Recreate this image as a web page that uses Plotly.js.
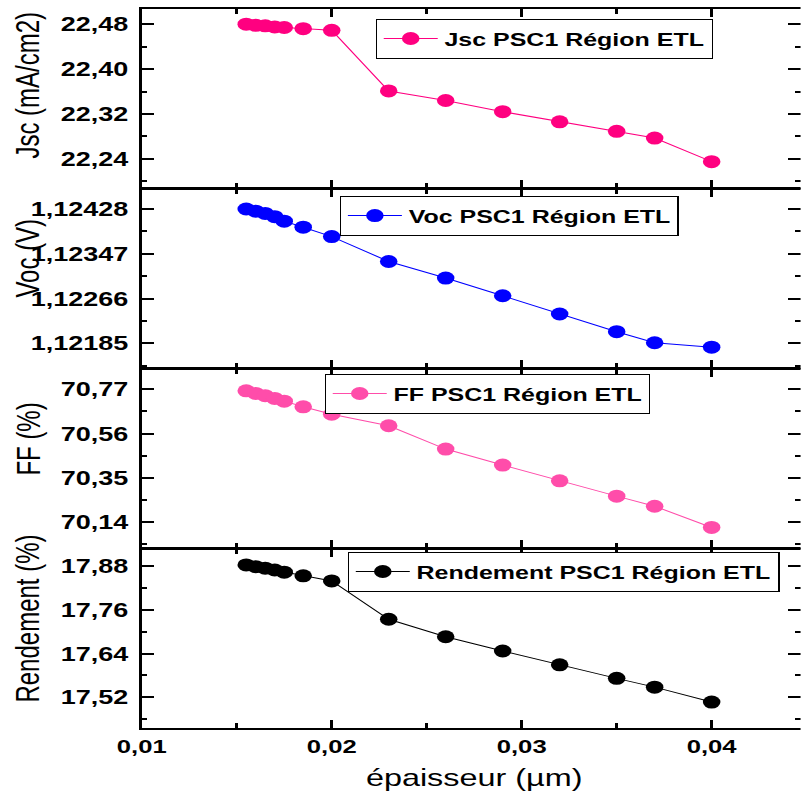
<!DOCTYPE html>
<html>
<head>
<meta charset="utf-8">
<script src="https://cdn.plot.ly/plotly-3.0.1.min.js"></script>
<style>
html,body{margin:0;padding:0;background:#fff;overflow:hidden;width:801px;height:798px;}
#wrap{width:593.33px;height:798px;transform:scaleX(1.35);transform-origin:0 0;}
</style>
</head>
<body>
<div id="wrap"><div id="chart"></div></div>
<script>
const thickness = [0.0155, 0.016, 0.0165, 0.017, 0.0175, 0.0185, 0.02, 0.023, 0.026, 0.029, 0.032, 0.035, 0.037, 0.04];
const jsc = [22.480, 22.478, 22.477, 22.475, 22.474, 22.472, 22.469, 22.361, 22.344, 22.324, 22.306, 22.289, 22.277, 22.235];
const voc = [1.12428, 1.12424, 1.12420, 1.12414, 1.12406, 1.12395, 1.12378, 1.12333, 1.12303, 1.12271, 1.12238, 1.12206, 1.12186, 1.12178];
const ff = [70.763, 70.751, 70.740, 70.727, 70.714, 70.687, 70.652, 70.597, 70.486, 70.410, 70.335, 70.262, 70.214, 70.113];
const rendement = [17.883, 17.878, 17.874, 17.869, 17.863, 17.853, 17.839, 17.734, 17.686, 17.647, 17.609, 17.572, 17.548, 17.507];
const seriesNames = ["Jsc PSC1 Région ETL", "Voc PSC1 Région ETL", "FF PSC1 Région ETL", "Rendement PSC1 Région ETL"];
const yTitles = ["Jsc (mA/cm2)", "Voc (V)", "FF (%)", "Rendement (%)"];
const xTitle = "épaisseur (µm)";
const colors = ["#FF0080", "#0000FF", "#FF4DAA", "#000000"];

const FONT = "Liberation Sans, Arial, Helvetica, sans-serif";
const values = [jsc, voc, ff, rendement];
const traces = values.map((v, i) => ({
  x: thickness, y: v, type: "scatter", mode: "lines+markers",
  name: seriesNames[i],
  xaxis: i === 0 ? "x" : "x" + (i + 1),
  yaxis: i === 0 ? "y" : "y" + (i + 1),
  legend: i === 0 ? "legend" : "legend" + (i + 1),
  line: {color: colors[i], width: 1},
  marker: {color: colors[i], size: 13}
}));

const domains = [[0.751, 1], [0.5007, 0.7497], [0.2503, 0.4993], [0, 0.249]];
const yRanges = [[22.188, 22.507], [1.121403, 1.124642], [70.015, 70.867], [17.436, 17.9266]];
const yTick0 = [22.24, 1.12185, 70.14, 17.52];
const yDtick = [0.08, 0.00081, 0.21, 0.12];
const yFormat = [".2f", ".5f", ".2f", ".2f"];
const legendX = [0.355, 0.3006, 0.2776, 0.3126];
const legendY = [0.9861, 0.7399, 0.4924, 0.2448];
const titleY = [0.8943, 0.6537, 0.4019, 0.1516];

const layout = {
  width: 593.33, height: 798,
  margin: {l: 105.2, r: 0, t: 9, b: 70},
  paper_bgcolor: "#fff", plot_bgcolor: "#fff",
  separators: ", ",
  font: {family: FONT, color: "#000"},
  showlegend: true,
  annotations: []
};

for (let i = 0; i < 4; i++) {
  const s = i === 0 ? "" : String(i + 1);
  layout["xaxis" + s] = {
    domain: [0, 1], anchor: "y" + s, range: [0.01, 0.04468],
    tick0: 0.01, dtick: 0.01, tickformat: ".2f",
    ticks: "inside", ticklen: 8, tickwidth: 2, tickcolor: "#000",
    minor: {dtick: 0.005, tick0: 0.01, ticks: "inside", ticklen: 5, tickwidth: 2, tickcolor: "#000"},
    showline: true, linewidth: 2, linecolor: "#000", mirror: "ticks",
    showgrid: false, zeroline: false,
    showticklabels: i === 3, ticklabelstandoff: 0,
    tickfont: {family: FONT, size: 19, weight: "bold", color: "#000"}
  };
  layout["yaxis" + s] = {
    domain: domains[i], anchor: "x" + s, range: yRanges[i],
    tick0: yTick0[i], dtick: yDtick[i], tickformat: yFormat[i],
    ticks: "inside", ticklen: 9, tickwidth: 2, tickcolor: "#000",
    minor: {dtick: yDtick[i] / 2, tick0: yTick0[i], ticks: "inside", ticklen: 4, tickwidth: 2, tickcolor: "#000"},
    showline: true, linewidth: 2, linecolor: "#000", mirror: "ticks",
    showgrid: false, zeroline: false, ticklabelstandoff: 4,
    tickfont: {family: FONT, size: 20, weight: "bold", color: "#000"}
  };
  layout["legend" + s] = {
    x: legendX[i], y: legendY[i], xanchor: "left", yanchor: "top",
    xref: "paper", yref: "paper",
    bgcolor: "#fff", bordercolor: "#000", borderwidth: 1,
    font: {family: FONT, size: 18.5, weight: "bold", color: "#000"},
    itemwidth: 40
  };
  layout.annotations.push({
    text: yTitles[i], xref: "paper", yref: "paper", x: -0.173, y: titleY[i],
    xanchor: "center", yanchor: "middle", textangle: -90, showarrow: false,
    font: {family: FONT, size: 24, color: "#000"}
  });
}
layout.annotations.push({
  text: xTitle, xref: "paper", yref: "paper", x: 0.5054, y: -0.0695,
  xanchor: "center", yanchor: "middle", showarrow: false,
  font: {family: FONT, size: 24, color: "#000"}
});

Plotly.newPlot("chart", traces, layout, {displayModeBar: false, staticPlot: true});
</script>
</body>
</html>
